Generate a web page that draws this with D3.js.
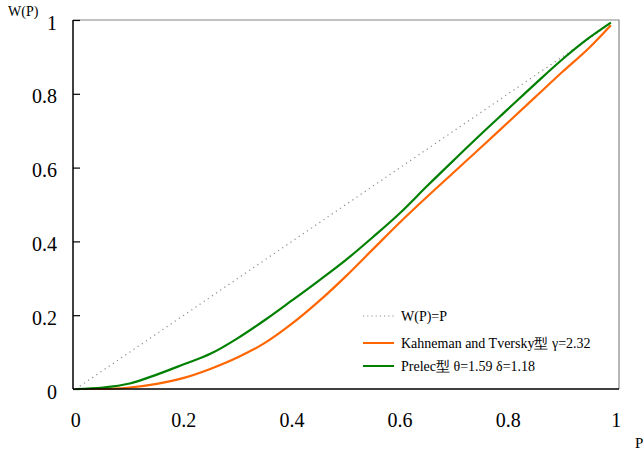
<!DOCTYPE html>
<html>
<head>
<meta charset="utf-8">
<script src="https://cdn.jsdelivr.net/npm/d3@7"></script>
<style>
  body { margin: 0; background: #fff; }
</style>
</head>
<body>
<div id="chart"></div>
<script>
// data
let pValues = [0, 0.05, 0.1, 0.15, 0.2, 0.25, 0.3, 0.35, 0.4, 0.45, 0.5,
  0.55, 0.6, 0.65, 0.7, 0.75, 0.8, 0.85, 0.9, 0.95, 0.99];
let ktValues = [0, 0, 0.004, 0.014, 0.03, 0.055, 0.086, 0.125, 0.177, 0.238, 0.306,
  0.379, 0.452, 0.521, 0.588, 0.655, 0.723, 0.791, 0.859, 0.925, 0.986];
let prelecValues = [0, 0.004, 0.015, 0.039, 0.067, 0.096, 0.138, 0.187, 0.24, 0.294, 0.35,
  0.412, 0.477, 0.55, 0.621, 0.691, 0.759, 0.827, 0.893, 0.952, 0.993];
let identityValues = [0, 0.99];
let identityP = [0, 0.99];
let xTicks = [0, 0.2, 0.4, 0.6, 0.8, 1];
let yTicks = [0, 0.2, 0.4, 0.6, 0.8, 1];
let legendLabels = ['W(P)=P', 'Kahneman and Tversky型 γ=2.32', 'Prelec型 θ=1.59 δ=1.18'];

// svg size
let svgWidth = 644;
let svgHeight = 454;
let fontFamily = '"Liberation Serif"';

// plot frame
let frame = { left: 73, right: 619, top: 20, bottom: 389 };

let svg = d3.select('#chart')
  .append('svg')
  .attr('width', svgWidth)
  .attr('height', svgHeight);

// scales (category style axis: points sit half a step in from the frame)
let xScale = d3.scaleLinear()
  .domain([0, 1])
  .range([75.7, 616.3]);

let yScale = d3.scaleLinear()
  .domain([0, 1])
  .range([frame.bottom, frame.top]);

// top and right border
svg.append('path')
  .attr('d', `M${frame.left},${frame.top}H${frame.right}V${frame.bottom}`)
  .attr('fill', 'none')
  .attr('stroke', '#868686')
  .attr('stroke-width', 1.2);

// y axis with inward ticks
let leftAxis = d3.axisRight(yScale)
  .tickValues(yTicks)
  .tickSize(7)
  .tickFormat('');

let yAxis = svg.append('g')
  .attr('transform', `translate(${frame.left}, 0)`)
  .call(leftAxis);
yAxis.select('.domain').remove();
yAxis.selectAll('line').attr('stroke', '#000').attr('stroke-width', 1.2);

svg.append('line')
  .attr('x1', frame.left).attr('x2', frame.left)
  .attr('y1', frame.top).attr('y2', frame.bottom)
  .attr('stroke', '#000')
  .attr('stroke-width', 1.5);

// y labels
svg.selectAll('.ylab')
  .data(yTicks)
  .enter()
  .append('text')
  .attr('class', 'ylab')
  .attr('x', 57)
  .attr('y', d => yScale(d) + 2.5)
  .attr('text-anchor', 'end')
  .attr('dominant-baseline', 'central')
  .style('font-family', fontFamily)
  .style('font-size', '20px')
  .text(d => d);

// x labels
svg.selectAll('.xlab')
  .data(xTicks)
  .enter()
  .append('text')
  .attr('class', 'xlab')
  .attr('x', d => xScale(d))
  .attr('y', 420)
  .attr('text-anchor', 'middle')
  .attr('dominant-baseline', 'central')
  .style('font-family', fontFamily)
  .style('font-size', '20px')
  .text(d => d);

// axis titles
svg.append('text')
  .attr('x', 8)
  .attr('y', 16)
  .style('font-family', fontFamily)
  .style('font-size', '14px')
  .text('W(P)');

svg.append('text')
  .attr('x', 635)
  .attr('y', 448)
  .style('font-family', fontFamily)
  .style('font-size', '15px')
  .text('P');

// lines
let line = d3.line()
  .x(d => xScale(d[0]))
  .y(d => yScale(d[1]));

let smoothLine = d3.line()
  .curve(d3.curveMonotoneX)
  .x(d => xScale(d[0]))
  .y(d => yScale(d[1]));

svg.append('path')
  .datum(identityP.map((p, i) => [p, identityValues[i]]))
  .attr('d', line)
  .attr('fill', 'none')
  .attr('stroke', '#8c8c8c')
  .attr('stroke-width', 1.2)
  .attr('stroke-dasharray', '1.2,3.8');

svg.append('path')
  .datum(pValues.map((p, i) => [p, ktValues[i]]))
  .attr('d', smoothLine)
  .attr('fill', 'none')
  .attr('stroke', '#ff6600')
  .attr('stroke-width', 2.2);

svg.append('path')
  .datum(pValues.map((p, i) => [p, prelecValues[i]]))
  .attr('d', smoothLine)
  .attr('fill', 'none')
  .attr('stroke', '#008000')
  .attr('stroke-width', 2.2);

// bottom axis line drawn on top of the curves
svg.append('line')
  .attr('x1', frame.left).attr('x2', frame.right)
  .attr('y1', frame.bottom).attr('y2', frame.bottom)
  .attr('stroke', '#000')
  .attr('stroke-width', 1.5);

// legend
let legendColors = ['#8c8c8c', '#ff6600', '#008000'];
let legendRows = [316, 343, 366];

let legend = svg.append('g');

legendLabels.forEach(function (label, i) {
  legend.append('line')
    .attr('x1', 363).attr('x2', 394)
    .attr('y1', legendRows[i]).attr('y2', legendRows[i])
    .attr('stroke', legendColors[i])
    .attr('stroke-width', i === 0 ? 1 : 2)
    .attr('stroke-dasharray', i === 0 ? '1.2,3' : null);

  legend.append('text')
    .attr('x', 401)
    .attr('y', legendRows[i])
    .attr('dominant-baseline', 'central')
    .style('font-family', fontFamily)
    .style('font-size', '14px')
    .text(label);
});
</script>
</body>
</html>
